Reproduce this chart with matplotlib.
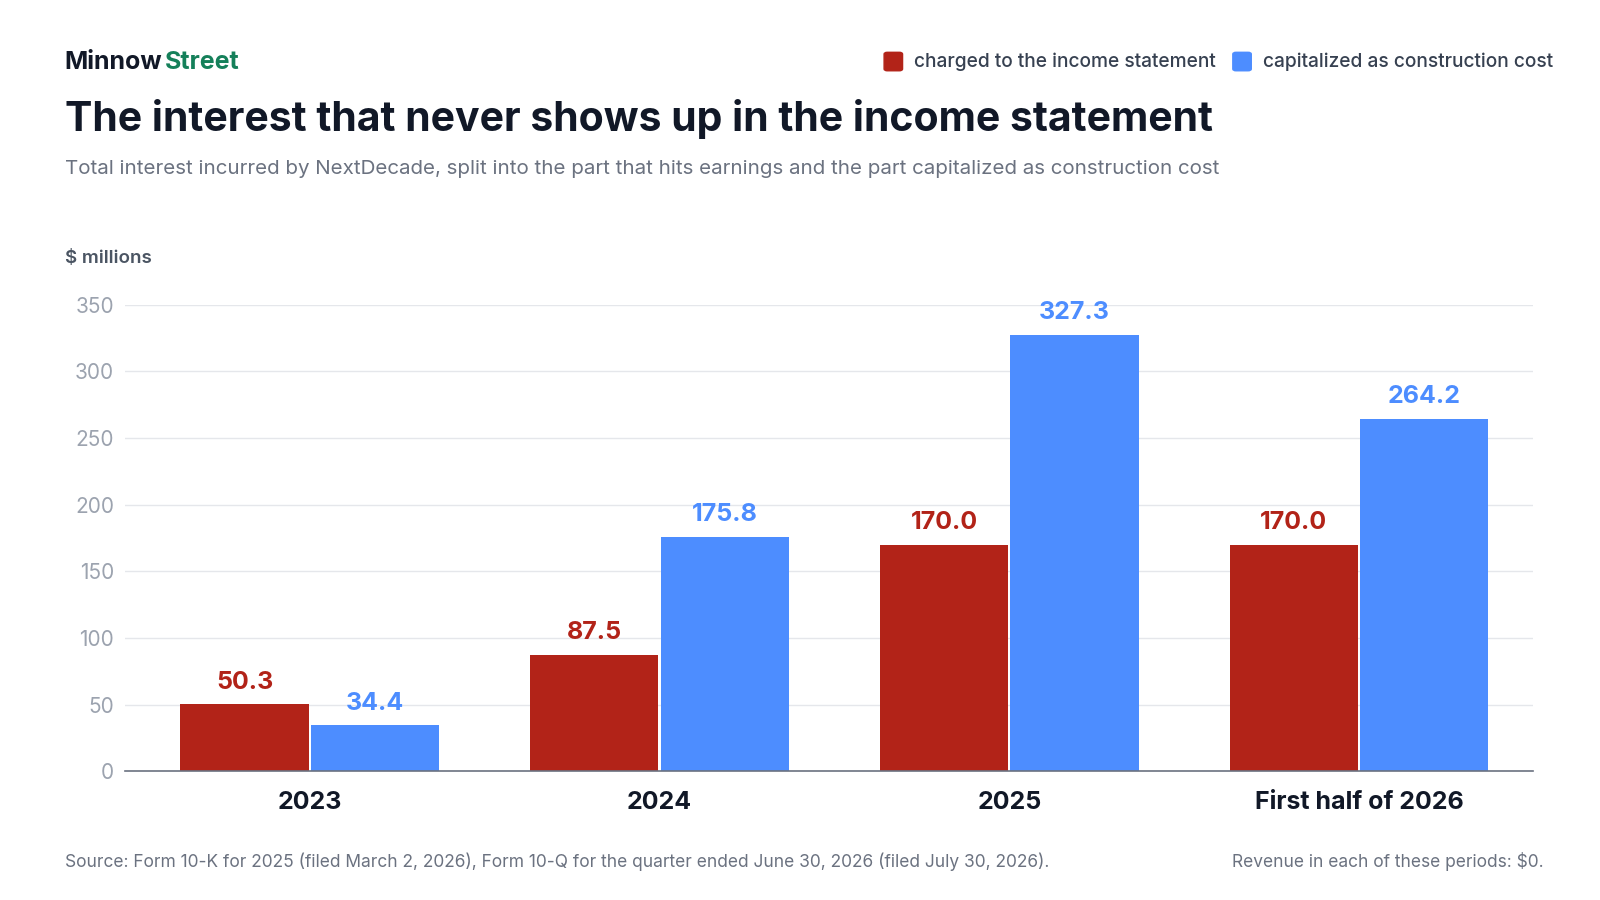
import matplotlib
matplotlib.use("Agg")
import matplotlib.pyplot as plt
import numpy as np

plt.rcParams['font.family'] = ['Inter', 'DejaVu Sans']

# data
periods = ["2023", "2024", "2025", "First half of 2026"]
charged = [50.3, 87.5, 170.0, 170.0]
capitalized = [34.4, 175.8, 327.3, 264.2]
yticks = [0, 50, 100, 150, 200, 250, 300, 350]

RED = "#b22318"
BLUE = "#4d8dff"
DARK = "#111827"
GREY = "#6b7280"
TICK = "#9ca3af"

W, H = 1560, 877.5  # coordinate frame the layout was measured in


def fx(px):
    return px / W


def fy(py):
    return 1 - py / H


fig = plt.figure(figsize=(16, 9), dpi=100)
ax = fig.add_axes([fx(122), fy(752), fx(1495) - fx(122), fy(297) - fy(752)])

x = np.arange(len(periods))
w = 0.367
off = w / 2 + 0.003
b1 = ax.bar(x - off, charged, w, color=RED, zorder=3)
b2 = ax.bar(x + off, capitalized, w, color=BLUE, zorder=3)
for bars, vals, c in [(b1, charged, RED), (b2, capitalized, BLUE)]:
    for b, v in zip(bars, vals):
        ax.text(b.get_x() + b.get_width() / 2, v + 8, f"{v:.1f}", ha="center", va="bottom",
                fontsize=18, fontweight="bold", color=c, clip_on=False)

ax.set_xlim(-0.528, 3.4985)
ax.set_ylim(0, 350)
ax.set_yticks(yticks)
ax.set_xticks(x)
ax.set_xticklabels(periods, fontsize=18, fontweight="bold", color=DARK)
ax.tick_params(axis="y", length=0, labelsize=15, labelcolor=TICK, pad=8)
ax.tick_params(axis="x", length=0, pad=14)
ax.grid(axis="y", color="#e5e7eb", lw=1, zorder=0)
for s in ["top", "right", "left"]:
    ax.spines[s].set_visible(False)
ax.spines["bottom"].set_color("#6b7280")
ax.spines["bottom"].set_linewidth(1.2)
ax.spines["bottom"].set_zorder(4)

# header
fig.text(fx(63), fy(61), "Minnow", fontsize=18, fontweight="bold", color=DARK, va="center")
fig.text(fx(161), fy(61), "Street", fontsize=18, fontweight="bold", color="#15805a", va="center")
fig.text(fx(63), fy(116), "The interest that never shows up in the income statement",
         fontsize=29.5, fontweight="bold", color=DARK, va="center")
fig.text(fx(63), fy(165),
         "Total interest incurred by NextDecade, split into the part that hits earnings and the part capitalized as construction cost",
         fontsize=14.8, color=GREY, va="center")
fig.text(fx(63), fy(252), "$ millions", fontsize=13.5, fontweight="semibold", color="#4b5563", va="center")

# legend
for lx, tx, c, lab in [(862, 891, RED, "charged to the income statement"),
                       (1202, 1231, BLUE, "capitalized as construction cost")]:
    fig.patches.append(matplotlib.patches.FancyBboxPatch(
        (fx(lx), fy(69)), 18 / W, 18 / H, boxstyle="round,pad=0,rounding_size=0.002",
        transform=fig.transFigure, color=c))
    fig.text(fx(tx), fy(60), lab, fontsize=13.8, fontweight="medium", color="#374151", va="center")

# footer
fig.text(fx(63), fy(840),
         "Source: Form 10-K for 2025 (filed March 2, 2026), Form 10-Q for the quarter ended June 30, 2026 (filed July 30, 2026).",
         fontsize=12.5, color=GREY, va="center")
fig.text(fx(1505), fy(840), "Revenue in each of these periods: $0.", fontsize=12.5,
         color=GREY, va="center", ha="right")

fig.savefig("out.png", dpi=100)
